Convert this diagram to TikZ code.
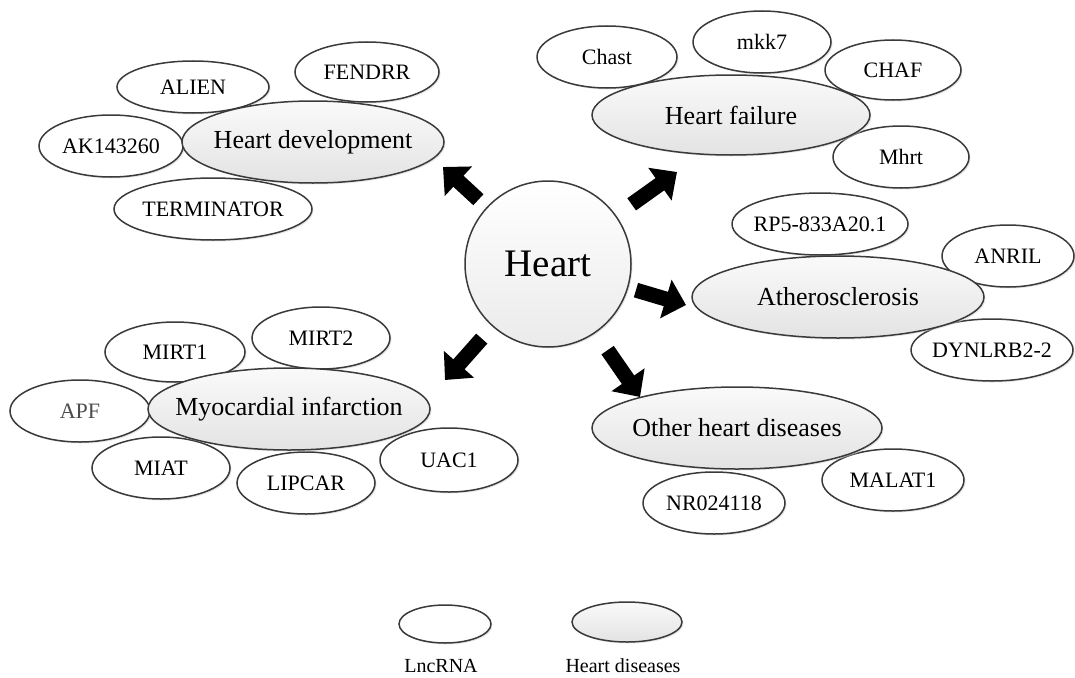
\documentclass[tikz,border=0pt]{standalone}
\usepackage{fontspec}
\setmainfont{Liberation Serif}
\usetikzlibrary{arrows.meta, shapes.geometric, shadows}
\definecolor{edgegray}{HTML}{3A3A3A}
\definecolor{shadowgray}{HTML}{CDCDCD}

\begin{document}
\begin{tikzpicture}[x=1pt, y=-1pt,
    lnc/.style={ellipse, draw=edgegray, line width=1.5pt, fill=white,
      inner xsep=-15pt, inner ysep=0pt, font=\fontsize{22}{26}\selectfont,
      drop shadow={shadow xshift=1.5pt, shadow yshift=-1.5pt, fill=shadowgray}},
    disease/.style={lnc, top color=gray!4, bottom color=gray!22,
      font=\fontsize{26}{30}\selectfont},
    bigarrow/.style={line width=15pt, -{Triangle[width=39pt, length=21pt]}}]
      \useasboundingbox (0,0) rectangle (1075,677);

      % Heart
      \node[circle, draw=edgegray, line width=1.5pt, top color=white,
        bottom color=gray!16, minimum size=166pt, inner sep=0pt,
        font=\fontsize{39}{46}\selectfont,
        drop shadow={shadow xshift=1.5pt, shadow yshift=-1.5pt, fill=shadowgray}]
        (heart) at (548,264) {Heart};

      % Heart development
      \node[lnc, minimum width=152pt, minimum height=52pt] (alien) at (193,87) {ALIEN};
      \node[lnc, minimum width=144pt, minimum height=60pt] (fendrr) at (367,72) {FENDRR};
      \node[lnc, minimum width=144pt, minimum height=62pt] (ak) at (111,146) {AK143260};
      \node[lnc, minimum width=198pt, minimum height=62pt] (term) at (213,209) {TERMINATOR};
      \node[disease, minimum width=262pt, minimum height=82pt] (hdev) at (313,142) {Heart development};

      % Heart failure
      \node[lnc, minimum width=140pt, minimum height=62pt] (chast) at (607,57) {Chast};
      \node[lnc, minimum width=138pt, minimum height=62pt] (mkk) at (762,42) {mkk7};
      \node[lnc, minimum width=136pt, minimum height=60pt] (chaf) at (893,70) {CHAF};
      \node[lnc, minimum width=136pt, minimum height=62pt] (mhrt) at (901,157) {Mhrt};
      \node[disease, minimum width=278pt, minimum height=80pt] (hfail) at (731,115) {Heart failure};

      % Atherosclerosis
      \node[lnc, minimum width=176pt, minimum height=62pt] (rpfive) at (820,224) {RP5-833A20.1};
      \node[lnc, minimum width=132pt, minimum height=62pt] (anril) at (1008,256) {ANRIL};
      \node[lnc, minimum width=162pt, minimum height=62pt] (dynl) at (992,350) {DYNLRB2-2};
      \node[disease, minimum width=292pt, minimum height=82pt] (ather) at (838,297) {Atherosclerosis};

      % Other heart diseases
      \node[lnc, minimum width=142pt, minimum height=62pt] (malat) at (893,480) {MALAT1};
      \node[lnc, minimum width=142pt, minimum height=62pt] (nr) at (714,503) {NR024118};
      \node[disease, minimum width=290pt, minimum height=82pt] (other) at (737,428) {Other heart diseases};

      % Myocardial infarction
      \node[lnc, minimum width=140pt, minimum height=60pt] (mirtone) at (175,352) {MIRT1};
      \node[lnc, minimum width=138pt, minimum height=62pt] (mirttwo) at (321,338) {MIRT2};
      \node[lnc, minimum width=140pt, minimum height=62pt, text=black!70] (apf) at (80,411) {APF};
      \node[lnc, minimum width=138pt, minimum height=62pt] (miat) at (161,468) {MIAT};
      \node[lnc, minimum width=138pt, minimum height=62pt] (lipcar) at (306,483) {LIPCAR};
      \node[lnc, minimum width=138pt, minimum height=64pt] (uac) at (449,460) {UAC1};
      \node[disease, minimum width=282pt, minimum height=82pt] (myo) at (289,409) {Myocardial infarction};

      % Arrows
      \coordinate (tipdev) at (443,167);
      \coordinate (tipfail) at (677,172);
      \coordinate (tipather) at (686,305);
      \coordinate (tipother) at (640,397);
      \coordinate (tipmyo) at (445,380);
      \draw[bigarrow, shorten <=11pt] (heart) -- (tipdev);
      \draw[bigarrow, shorten <=19pt] (heart) -- (tipfail);
      \draw[bigarrow, shorten <=8pt] (heart) -- (tipather);
      \draw[bigarrow, shorten <=21pt] (heart) -- (tipother);
      \draw[bigarrow, shorten <=16pt] (heart) -- (tipmyo);

      % Legend
      \node[lnc, minimum width=92pt, minimum height=38pt] (leglnc) at (445,624) {};
      \node[disease, minimum width=110pt, minimum height=40pt] (legdis) at (627,622) {};
      \node[font=\fontsize{20}{24}\selectfont] (leglnctext) at (441,666) {LncRNA};
      \node[font=\fontsize{20}{24}\selectfont] (legdistext) at (623,666) {Heart diseases};
    \end{tikzpicture}
\end{document}
